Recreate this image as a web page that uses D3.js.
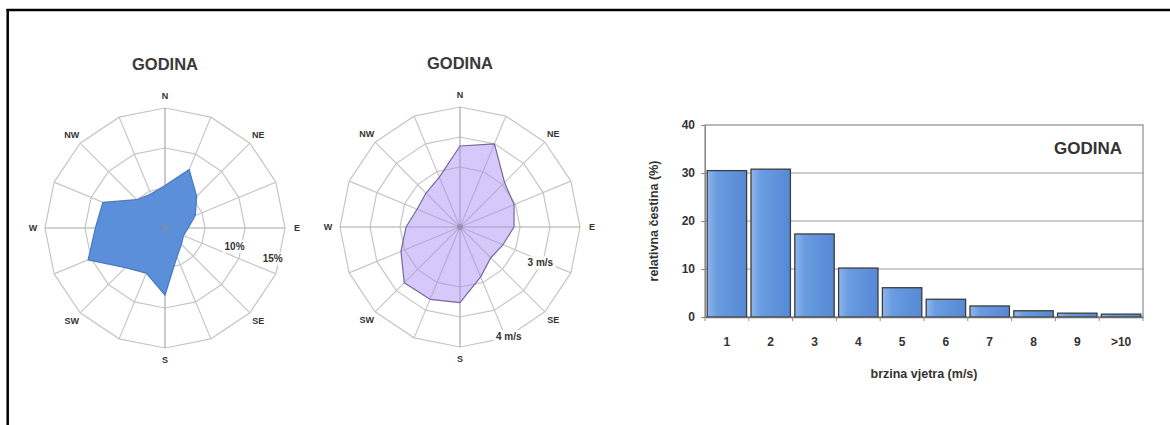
<!DOCTYPE html>
<html><head><meta charset="utf-8">
<script src="https://cdn.jsdelivr.net/npm/d3@7"></script>
<style>body{margin:0;background:#fff}svg{display:block}text{font-family:"Liberation Sans",Arial,sans-serif}</style>
</head><body>
<svg id="c" width="1170" height="425"></svg>
<script>
// ---- data ----
const directions = ["N","NNE","NE","ENE","E","ESE","SE","SSE","S","SSW","SW","WSW","W","WNW","NW","NNW"];
const freqPct    = [5.3, 7.9, 5.6, 4.1, 2.9, 2.5, 2.9, 3.9, 8.4, 6.1, 7.0, 10.4, 8.7, 8.4, 5.0, 4.6];
const meanSpeed  = [2.7, 3.0, 2.1, 1.95, 1.8, 1.55, 1.45, 1.8, 2.52, 2.61, 2.63, 2.13, 1.8, 1.55, 1.6, 1.8];
const pctRings   = [5, 10, 15];
const pctLabels  = [10, 15];
const speedRings = [2, 3, 4];
const speedLabels = [3, 4];
const speedCats  = ["1","2","3","4","5","6","7","8","9",">10"];
const speedFreq  = [30.5, 30.8, 17.3, 10.2, 6.1, 3.7, 2.3, 1.3, 0.8, 0.6];
const barTicks   = [0, 10, 20, 30, 40];
const mainDirs   = ["N","NE","E","SE","S","SW","W","NW"];
const title = "GODINA";

const svg = d3.select("#c");
// frame
svg.append("line").attr("x1",6.5).attr("x2",1170).attr("y1",10).attr("y2",10).attr("stroke","#000").attr("stroke-width",2.5);
svg.append("line").attr("x1",7.7).attr("x2",7.7).attr("y1",9).attr("y2",425).attr("stroke","#000").attr("stroke-width",2.5);

const ang = d3.scaleBand().domain(directions).range([0, 2*Math.PI]).align(0).paddingInner(0).paddingOuter(0);
const angleOf = d => ang(d);

function radar(cx, cy, rMax, values, rMaxVal, rings, labelRings, labelFmt, labelAngles, fill, fillOpacity, strokeC, spokesOnTop) {
  const g = svg.append("g").attr("transform", `translate(${cx},${cy})`);
  const r = d3.scaleLinear().domain([0, rMaxVal]).range([0, rMax]);
  const gridG = g.append("g");
  const ringLine = d3.lineRadial().angle(d => angleOf(d)).curve(d3.curveLinearClosed);
  rings.forEach(v => {
    gridG.append("path").attr("d", ringLine.radius(() => r(v))(directions))
      .attr("fill","none").attr("stroke","#c6c6c6").attr("stroke-width",1.2);
  });
  const spokes = g.append("g");
  directions.forEach(d => {
    const a = angleOf(d);
    const main = (d==="N"||d==="S"||d==="E"||d==="W");
    spokes.append("line").attr("x1",0).attr("y1",0)
      .attr("x2", rMax*Math.sin(a)).attr("y2", -rMax*Math.cos(a))
      .attr("stroke", main ? "#a8a8a8" : "#c6c6c6").attr("stroke-width",1.2);
  });
  const area = d3.lineRadial().angle((d,i) => angleOf(directions[i])).radius(d => r(d)).curve(d3.curveLinearClosed);
  const poly = g.append("path").attr("d", area(values)).attr("fill", fill).attr("fill-opacity", fillOpacity)
    .attr("stroke", strokeC).attr("stroke-width",1.2).attr("stroke-linejoin","round");
  if (!spokesOnTop) poly.raise();
  g.append("circle").attr("r",3).attr("fill","#8a8a9a").attr("opacity",0.7);
  labelRings.forEach((v,i) => {
    const a = labelAngles[i][0]*Math.PI/180, rr = r(v) + labelAngles[i][1];
    const x = rr*Math.sin(a), y = -rr*Math.cos(a);
    const t = g.append("text").attr("x",x).attr("y",y).attr("text-anchor","middle").attr("dy","0.35em")
      .attr("font-size",10).attr("font-weight","bold").attr("fill","#333").text(labelFmt(v));
    const bb = t.node().getBBox();
    g.insert("rect", "text").attr("x",bb.x-2).attr("y",bb.y-1).attr("width",bb.width+4).attr("height",bb.height+2).attr("fill","#fff");
  });
  mainDirs.forEach(d => {
    const a = angleOf(d), rr = rMax + 12;
    g.append("text").attr("x", rr*Math.sin(a)).attr("y", -rr*Math.cos(a)).attr("dy","0.35em")
      .attr("text-anchor","middle").attr("font-size",9).attr("font-weight","bold").attr("fill","#333").text(d);
  });
  g.append("text").attr("x",0).attr("y",-158).attr("text-anchor","middle").attr("font-size",16.5)
    .attr("font-weight","bold").attr("fill","#3a3a3a").text(title);
}

radar(165, 228, 120, freqPct, 15, pctRings, pctLabels, v => v + "%", [[105,-8],[106,-8]], "#5b8fd9", 1, "#4a78c0", false);
radar(460, 227, 120, meanSpeed, 4, speedRings, speedLabels, v => v + " m/s", [[114,-2],[156,0]], "#a98cf0", 0.48, "#76679e", true);

// ---- bar chart ----
const bx0 = 705, bx1 = 1143, by0 = 317, by1 = 125;
const x = d3.scaleBand().domain(speedCats).range([bx0, bx1]).paddingInner(0.1).paddingOuter(0.05);
const y = d3.scaleLinear().domain([0, 40]).range([by0, by1]);
const defs = svg.append("defs");
const grad = defs.append("linearGradient").attr("id","bg").attr("x1","0").attr("x2","1").attr("y1","0").attr("y2","0");
grad.append("stop").attr("offset","0").attr("stop-color","#8fb6ec");
grad.append("stop").attr("offset","0.25").attr("stop-color","#6a9ce2");
grad.append("stop").attr("offset","1").attr("stop-color","#5689d4");

const bg = svg.append("g");
bg.selectAll("line.grid").data(barTicks.filter(t => t>0 && t<40)).join("line")
  .attr("x1",bx0).attr("x2",bx1).attr("y1",d=>y(d)).attr("y2",d=>y(d)).attr("stroke","#9a9a9a").attr("stroke-width",1);
bg.append("rect").attr("x",bx0).attr("y",by1).attr("width",bx1-bx0).attr("height",by0-by1)
  .attr("fill","none").attr("stroke","#8a8a8a").attr("stroke-width",1.2);
bg.selectAll("rect.bar").data(speedFreq).join("rect").attr("class","bar")
  .attr("x",(d,i)=>x(speedCats[i])).attr("width",x.bandwidth())
  .attr("y",d=>y(d)).attr("height",d=>y(0)-y(d))
  .attr("fill","url(#bg)").attr("stroke","#3d3d3d").attr("stroke-width",1.3);
const yAxis = d3.axisLeft(y).tickValues(barTicks).tickSize(4).tickPadding(6);
const ya = bg.append("g").attr("transform",`translate(${bx0},0)`).call(yAxis);
ya.select(".domain").attr("stroke","#8a8a8a");
ya.selectAll(".tick line").attr("stroke","#8a8a8a");
ya.selectAll("text").attr("font-size",12).attr("font-weight","bold").attr("fill","#333").attr("font-family","Liberation Sans, Arial, sans-serif");
const xAxis = d3.axisBottom(x).tickSize(0).tickPadding(20);
const xa = bg.append("g").attr("transform",`translate(0,${by0})`).call(xAxis);
xa.select(".domain").attr("stroke","#6a6a6a").attr("stroke-width",1.5);
xa.selectAll("text").attr("font-size",12).attr("font-weight","bold").attr("fill","#333").attr("font-family","Liberation Sans, Arial, sans-serif");
bg.selectAll("line.ct").data(d3.range(speedCats.length+1)).join("line")
  .attr("x1",i=>bx0+i*(bx1-bx0)/speedCats.length).attr("x2",i=>bx0+i*(bx1-bx0)/speedCats.length)
  .attr("y1",by0).attr("y2",by0+4).attr("stroke","#8a8a8a");
bg.append("text").attr("x",(bx0+bx1)/2).attr("y",378).attr("text-anchor","middle").attr("font-size",12.5)
  .attr("font-weight","bold").attr("fill","#333").text("brzina vjetra (m/s)");
bg.append("text").attr("transform",`translate(658,${(by0+by1)/2}) rotate(-90)`).attr("text-anchor","middle")
  .attr("font-size",12.5).attr("font-weight","bold").attr("fill","#333").text("relativna čestina (%)");
bg.append("text").attr("x",1122).attr("y",154).attr("text-anchor","end").attr("font-size",17)
  .attr("font-weight","bold").attr("fill","#333").text(title);
</script>
</body></html>
